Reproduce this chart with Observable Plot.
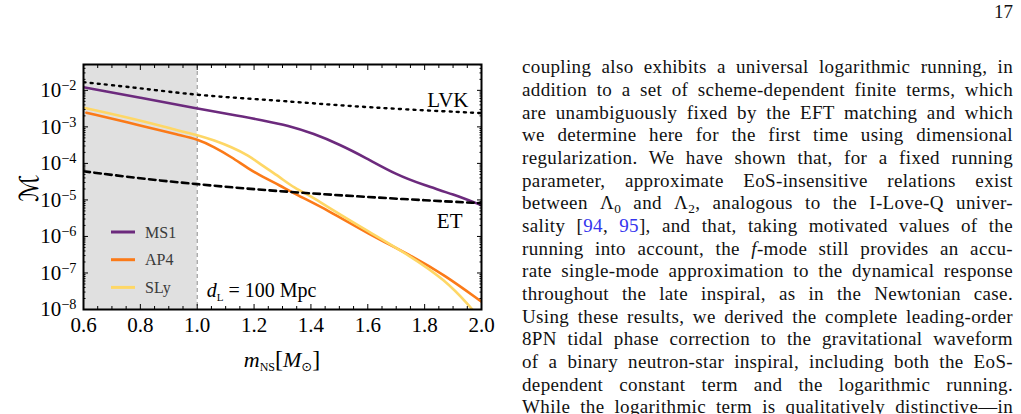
<!DOCTYPE html>
<html><head><meta charset="utf-8">
<script src="https://cdn.jsdelivr.net/npm/d3@7"></script>
<script src="https://cdn.jsdelivr.net/npm/@observablehq/plot@0.6"></script>
<style>
html,body{margin:0;padding:0;background:#fff;width:1021px;height:414px;overflow:hidden;position:relative;}
#chart{position:absolute;left:0;top:0;}
.tx{position:absolute;left:522px;width:491px;font-family:"Liberation Serif",serif;font-size:19px;letter-spacing:0.35px;line-height:22.65px;height:22.65px;color:#111;text-align:justify;text-align-last:justify;}
.tx sub{font-size:0.7em;vertical-align:-0.28em;line-height:0;}
.tx .ref{color:#3535ee;}
#pnum{position:absolute;right:8px;top:1px;font-family:"Liberation Serif",serif;font-size:19px;line-height:22.65px;color:#111;}
</style>
</head><body>
<div id="chart"></div>
<div id="pnum">17</div>
<div id="text"></div>
<script>
// ---- data ----
const ms1M = [0.6, 0.8, 1.0, 1.12, 1.23, 1.32, 1.41, 1.5, 1.59, 1.7, 1.8, 1.9, 2.0];
const ms1V = [1.22e-2, 6.28e-3, 3.14e-3, 2.20e-3, 1.51e-3, 1.10e-3, 6.52e-4, 3.33e-4, 1.47e-4, 4.89e-5, 2.52e-5, 1.43e-5, 7.16e-6];
const ap4M = [0.61, 0.8, 0.94, 1.0, 1.06, 1.12, 1.18, 1.23, 1.29, 1.34, 1.46, 1.6, 1.75, 1.87, 2.0];
const ap4V = [2.44e-3, 1.10e-3, 5.86e-4, 4.61e-4, 2.81e-4, 1.50e-4, 7.21e-5, 4.27e-5, 2.52e-5, 1.50e-5, 5.24e-6, 1.20e-6, 3.08e-7, 8.77e-8, 1.63e-8];
const slyM = [0.6, 0.8, 0.94, 1.0, 1.06, 1.12, 1.18, 1.23, 1.29, 1.34, 1.41, 1.46, 1.6, 1.745, 1.873, 1.96, 1.975];
const slyV = [3.35e-3, 1.51e-3, 7.67e-4, 6.04e-4, 4.28e-4, 2.81e-4, 1.66e-4, 8.59e-5, 4.25e-5, 2.15e-5, 1.15e-5, 6.32e-6, 1.40e-6, 3.08e-7, 6.40e-8, 1.19e-8, 8.5e-9];
const lvkM = [0.6, 0.8, 1.0, 1.28, 1.5, 1.73, 2.0];
const lvkV = [1.67e-2, 1.15e-2, 7.26e-3, 5.30e-3, 3.86e-3, 3.01e-3, 2.38e-3];
const etM = [0.6, 0.8, 1.0, 1.2, 1.4, 1.6, 1.8, 2.0];
const etV = [6.08e-5, 3.85e-5, 2.69e-5, 1.95e-5, 1.51e-5, 1.20e-5, 9.77e-6, 8.13e-6];

const seriesNames = ["MS1", "AP4", "SLy"];
const seriesColors = ["#6c2a7d", "#fb7a18", "#fed766"];
const detectorNames = ["LVK", "ET"];
const shadedRange = [0.6, 1.0];
const distanceLabel = "100 Mpc";

const xMajor = [0.6, 0.8, 1.0, 1.2, 1.4, 1.6, 1.8, 2.0];
const yMajor = [1e-8, 1e-7, 1e-6, 1e-5, 1e-4, 1e-3, 1e-2];
const xDomain = [0.6, 2.0];
const yDomain = [1e-8, 0.051];

const textLines = [
  "coupling also exhibits a universal logarithmic running, in",
  "addition to a set of scheme-dependent finite terms, which",
  "are unambiguously fixed by the EFT matching and which",
  "we determine here for the first time using dimensional",
  "regularization. We have shown that, for a fixed running",
  "parameter, approximate EoS-insensitive relations exist",
  "between Λ<sub>0</sub> and Λ<sub>2</sub>, analogous to the I-Love-Q univer-",
  "sality [<span class=\"ref\">94</span>, <span class=\"ref\">95</span>], and that, taking motivated values of the",
  "running into account, the <i>f</i>-mode still provides an accu-",
  "rate single-mode approximation to the dynamical response",
  "throughout the late inspiral, as in the Newtonian case.",
  "Using these results, we derived the complete leading-order",
  "8PN tidal phase correction to the gravitational waveform",
  "of a binary neutron-star inspiral, including both the EoS-",
  "dependent constant term and the logarithmic running.",
  "While the logarithmic term is qualitatively distinctive—in"
];

// ---- build tables ----
const zipT = (ms, vs) => ms.map((m, i) => ({m, v: vs[i]}));
const ms1 = zipT(ms1M, ms1V), ap4 = zipT(ap4M, ap4V), sly = zipT(slyM, slyV);
const lvk = zipT(lvkM, lvkV), et = zipT(etM, etV);
const eos = [ms1, ap4, sly];

const xMinor = d3.range(0.65, 2.0, 0.05).filter(v => Math.abs(v * 5 - Math.round(v * 5)) > 1e-6);
const yMinor = [];
for (let e = -8; e <= -2; e++) for (let k = 2; k <= 9; k++) { const v = k * Math.pow(10, e); if (v <= yDomain[1]) yMinor.push(v); }

const common = {x: "m", y: "v", curve: "basis", clip: true};

const plot = Plot.plot({
  width: 500, height: 380,
  marginLeft: 83, marginRight: 19, marginTop: 64, marginBottom: 71,
  style: {fontFamily: "Liberation Serif, serif", fontSize: "21px", color: "#000", background: "transparent", overflow: "visible"},
  x: {domain: xDomain},
  y: {type: "log", domain: yDomain},
  marks: [
    Plot.rect([shadedRange], {x1: d => d[0], x2: d => d[1], fill: "#e0e0e0"}),
    Plot.ruleX([shadedRange[1]], {stroke: "#8a8a8a", strokeWidth: 1, strokeDasharray: "4,3"}),
    ...eos.map((d, i) => Plot.line(d, {...common, stroke: seriesColors[i], strokeWidth: 2.6})),
    Plot.line(lvk, {...common, stroke: "#000", strokeWidth: 2.4, strokeDasharray: "2,5.2"}),
    Plot.line(et, {...common, stroke: "#000", strokeWidth: 2.6, strokeDasharray: "6.5,4.5"}),
    Plot.text([lvk[lvk.length - 1]], {x: "m", y: "v", text: () => detectorNames[0], textAnchor: "end", lineAnchor: "bottom", dx: -13, dy: -6, fontSize: 21}),
    Plot.text([et[et.length - 1]], {x: "m", y: "v", text: () => detectorNames[1], textAnchor: "end", lineAnchor: "bottom", dx: -19, dy: 25, fontSize: 21}),
    Plot.frame({stroke: "#000", strokeWidth: 2}),
    Plot.axisX({ticks: xMajor, anchor: "bottom", tickSize: 0, tickPadding: 8, tickFormat: d => d.toFixed(1), fontSize: 21, label: null}),
    Plot.axisX({ticks: xMajor, anchor: "bottom", tickSize: -5, fill: "none", label: null}),
    Plot.axisX({ticks: xMinor, anchor: "bottom", tickSize: -3, fill: "none", label: null}),
    Plot.axisX({ticks: xMajor, anchor: "top", tickSize: -5, fill: "none", label: null}),
    Plot.axisX({ticks: xMinor, anchor: "top", tickSize: -3, fill: "none", label: null}),
    Plot.axisY({ticks: yMajor, anchor: "left", tickSize: 0, tickPadding: 7, tickFormat: d => "10^" + Math.round(Math.log10(d)), fontSize: 21, label: null}),
    Plot.axisY({ticks: yMajor, anchor: "left", tickSize: -5, fill: "none", label: null}),
    Plot.axisY({ticks: yMinor, anchor: "left", tickSize: -2.5, fill: "none", label: null}),
    Plot.axisY({ticks: yMajor, anchor: "right", tickSize: -5, fill: "none", label: null}),
    Plot.axisY({ticks: yMinor, anchor: "right", tickSize: -2.5, fill: "none", label: null})
  ]
});
document.getElementById("chart").appendChild(plot);

const svg = d3.select(plot);
const xs = plot.scale("x");
// superscript exponents on y tick labels
svg.selectAll('g[aria-label="y-axis tick label"] text').each(function () {
  const t = this.textContent;
  const parts = t.split("^");
  if (parts.length !== 2) return;
  const s = d3.select(this);
  s.text(null);
  s.append("tspan").text(parts[0]);
  s.append("tspan").attr("dy", "-0.48em").attr("font-size", "0.68em").text("\u2212" + (-(+parts[1])));
});

const x0 = xs.apply(xDomain[0]), x1 = xs.apply(xDomain[1]);
// x label
const xl = svg.append("text").attr("x", (x0 + x1) / 2).attr("y", 367).attr("text-anchor", "middle")
  .attr("font-family", "Liberation Serif, serif").attr("font-size", 22).attr("fill", "#000");
xl.append("tspan").attr("font-style", "italic").text("m");
xl.append("tspan").attr("font-size", 12).attr("dy", 4).text("NS");
xl.append("tspan").attr("dy", -4).attr("font-size", 24).text("[");
xl.append("tspan").attr("font-style", "italic").text("M");
xl.append("tspan").attr("font-size", 13).attr("dy", 4).attr("font-family", "DejaVu Sans").text("\u2299");
xl.append("tspan").attr("dy", -4).attr("font-size", 24).text("]");

// y label
svg.append("text").attr("transform", "translate(38,188) rotate(-90)").attr("text-anchor", "middle")
  .attr("font-family", "DejaVu Serif, DejaVu Sans").attr("font-size", 26).attr("fill", "#000").text("\u2133");

// distance annotation
const dl = svg.append("text").attr("x", xs.apply(shadedRange[1]) + 10).attr("y", 297).attr("text-anchor", "start")
  .attr("font-family", "Liberation Serif, serif").attr("font-size", 20).attr("fill", "#000");
dl.append("tspan").attr("font-style", "italic").text("d");
dl.append("tspan").attr("font-size", 11).attr("dy", 4).text("L");
dl.append("tspan").attr("dy", -4).text(" = " + distanceLabel);

// legend
const lg = svg.append("g").attr("font-family", "Liberation Serif, serif").attr("font-size", 16).attr("text-anchor", "start");
seriesNames.forEach((n, i) => {
  const yy = 232 + i * 27.7;
  lg.append("line").attr("x1", x0 + 28).attr("x2", x0 + 52).attr("y1", yy).attr("y2", yy)
    .attr("stroke", seriesColors[i]).attr("stroke-width", 3);
  lg.append("text").attr("x", x0 + 62).attr("y", yy + 5.5).attr("fill", "#3a3a3a").text(n);
});

// body text
const tdiv = document.getElementById("text");
const firstTop = 56.4, lh = 22.65;
textLines.forEach((t, i) => {
  const d = document.createElement("div");
  d.className = "tx";
  d.style.top = (firstTop + i * lh) + "px";
  d.innerHTML = t;
  tdiv.appendChild(d);
});
</script>
</body></html>
